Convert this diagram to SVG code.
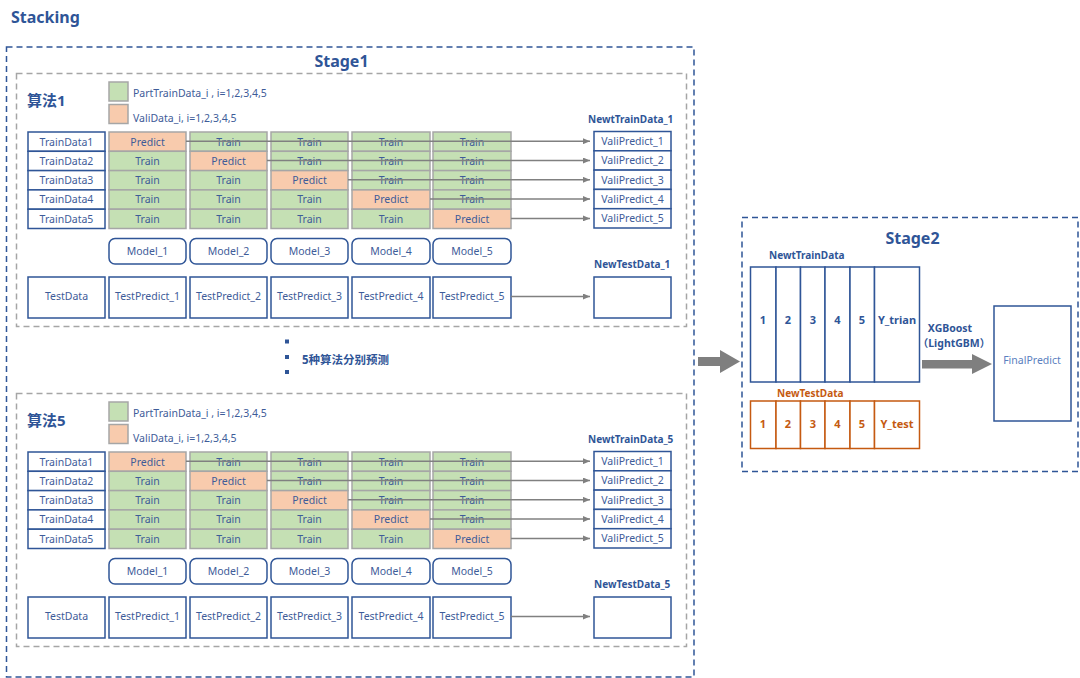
<svg xmlns="http://www.w3.org/2000/svg" width="1080" height="678" viewBox="0 0 1080 678">
<style>
text{font-family:"Noto Sans","Noto Sans CJK SC",sans-serif;fill:#3e5c99;font-size:10.5px}
.c{text-anchor:middle}
.b{font-weight:bold;fill:#2f5597}
.h1{font-size:16px;font-weight:bold;fill:#2f5597}
.algo{font-size:15px;font-weight:bold;fill:#2f5597}
.lb{font-size:10px;font-weight:bold;fill:#2f5597}
.ort{fill:#c55a11;font-weight:bold;font-size:10px}
.stage{fill:none;stroke:#2f5597;stroke-width:1.5;stroke-dasharray:6 4}
.inner{fill:none;stroke:#a6a6a6;stroke-width:1.5;stroke-dasharray:6 4}
.g{fill:#c5e0b4;stroke:#a6a6a6;stroke-width:1.5}
.o{fill:#f8cbad;stroke:#a6a6a6;stroke-width:1.5}
.bx{fill:#fff;stroke:#2f5597;stroke-width:1.5}
.obx{fill:#fff;stroke:#c55a11;stroke-width:1.5}
.con{fill:none;stroke:#808080;stroke-width:1.5}
.big{fill:#7f7f7f}
.num{font-size:11px;font-weight:bold;fill:#2f5597}
.onum{font-size:11px;font-weight:bold;fill:#c55a11}
</style>
<defs>
<marker id="ah" markerUnits="userSpaceOnUse" markerWidth="7" markerHeight="6" refX="7" refY="3" orient="auto"><path d="M0,0 L7,3 L0,6 z" fill="#808080"/></marker>
</defs>
<rect width="1080" height="678" fill="#fff"/>
<g id="title"><text class="h1" x="11" y="23">Stacking</text></g>

<g id="stage1">
<rect class="stage" x="6.5" y="47" width="687.5" height="630"/>
<text class="h1 c" x="341.5" y="67">Stage1</text>
</g>

<!-- Algorithm 1 block -->
<g id="algo1">
<rect class="inner" x="16.5" y="73.5" width="670" height="253"/>
<g id="a1-label"><text class="algo" x="27" y="106">算法1</text></g>
<g id="a1-legend-train"><rect class="g" x="109" y="82" width="19" height="19"/><text x="133" y="97">PartTrainData_i , i=1,2,3,4,5</text></g>
<g id="a1-legend-vali"><rect class="o" x="109" y="104.5" width="19" height="19"/><text x="133" y="121.5">ValiData_i, i=1,2,3,4,5</text></g>
<g id="a1-traindata">
<rect class="bx" x="28" y="132" width="77" height="19.3"/><text class="c" x="66.5" y="145.5">TrainData1</text>
<rect class="bx" x="28" y="151.3" width="77" height="19.3"/><text class="c" x="66.5" y="164.8">TrainData2</text>
<rect class="bx" x="28" y="170.6" width="77" height="19.3"/><text class="c" x="66.5" y="184.1">TrainData3</text>
<rect class="bx" x="28" y="189.9" width="77" height="19.3"/><text class="c" x="66.5" y="203.4">TrainData4</text>
<rect class="bx" x="28" y="209.2" width="77" height="19.3"/><text class="c" x="66.5" y="222.7">TrainData5</text>
</g>
<g id="a1-fold1">
<rect class="o" x="109" y="132" width="77" height="19.3"/><text class="c" x="147.5" y="145.5">Predict</text>
<rect class="g" x="109" y="151.3" width="77" height="19.3"/><text class="c" x="147.5" y="164.8">Train</text>
<rect class="g" x="109" y="170.6" width="77" height="19.3"/><text class="c" x="147.5" y="184.1">Train</text>
<rect class="g" x="109" y="189.9" width="77" height="19.3"/><text class="c" x="147.5" y="203.4">Train</text>
<rect class="g" x="109" y="209.2" width="77" height="19.3"/><text class="c" x="147.5" y="222.7">Train</text>
</g>
<g id="a1-fold2">
<rect class="g" x="190" y="132" width="77" height="19.3"/><text class="c" x="228.5" y="145.5">Train</text>
<rect class="o" x="190" y="151.3" width="77" height="19.3"/><text class="c" x="228.5" y="164.8">Predict</text>
<rect class="g" x="190" y="170.6" width="77" height="19.3"/><text class="c" x="228.5" y="184.1">Train</text>
<rect class="g" x="190" y="189.9" width="77" height="19.3"/><text class="c" x="228.5" y="203.4">Train</text>
<rect class="g" x="190" y="209.2" width="77" height="19.3"/><text class="c" x="228.5" y="222.7">Train</text>
</g>
<g id="a1-fold3">
<rect class="g" x="271" y="132" width="77" height="19.3"/><text class="c" x="309.5" y="145.5">Train</text>
<rect class="g" x="271" y="151.3" width="77" height="19.3"/><text class="c" x="309.5" y="164.8">Train</text>
<rect class="o" x="271" y="170.6" width="77" height="19.3"/><text class="c" x="309.5" y="184.1">Predict</text>
<rect class="g" x="271" y="189.9" width="77" height="19.3"/><text class="c" x="309.5" y="203.4">Train</text>
<rect class="g" x="271" y="209.2" width="77" height="19.3"/><text class="c" x="309.5" y="222.7">Train</text>
</g>
<g id="a1-fold4">
<rect class="g" x="352" y="132" width="78" height="19.3"/><text class="c" x="391" y="145.5">Train</text>
<rect class="g" x="352" y="151.3" width="78" height="19.3"/><text class="c" x="391" y="164.8">Train</text>
<rect class="g" x="352" y="170.6" width="78" height="19.3"/><text class="c" x="391" y="184.1">Train</text>
<rect class="o" x="352" y="189.9" width="78" height="19.3"/><text class="c" x="391" y="203.4">Predict</text>
<rect class="g" x="352" y="209.2" width="78" height="19.3"/><text class="c" x="391" y="222.7">Train</text>
</g>
<g id="a1-fold5">
<rect class="g" x="433" y="132" width="78" height="19.3"/><text class="c" x="472" y="145.5">Train</text>
<rect class="g" x="433" y="151.3" width="78" height="19.3"/><text class="c" x="472" y="164.8">Train</text>
<rect class="g" x="433" y="170.6" width="78" height="19.3"/><text class="c" x="472" y="184.1">Train</text>
<rect class="g" x="433" y="189.9" width="78" height="19.3"/><text class="c" x="472" y="203.4">Train</text>
<rect class="o" x="433" y="209.2" width="78" height="19.3"/><text class="c" x="472" y="222.7">Predict</text>
</g>
<g id="a1-newtrain">
<text class="lb" x="588" y="123">NewtTrainData_1</text>
<rect class="bx" x="594" y="131.5" width="77" height="19.3"/><text class="c" x="632.5" y="145">ValiPredict_1</text>
<rect class="bx" x="594" y="150.8" width="77" height="19.3"/><text class="c" x="632.5" y="164.3">ValiPredict_2</text>
<rect class="bx" x="594" y="170.1" width="77" height="19.3"/><text class="c" x="632.5" y="183.6">ValiPredict_3</text>
<rect class="bx" x="594" y="189.4" width="77" height="19.3"/><text class="c" x="632.5" y="202.9">ValiPredict_4</text>
<rect class="bx" x="594" y="208.7" width="77" height="19.3"/><text class="c" x="632.5" y="222.2">ValiPredict_5</text>
</g>
<g id="a1-models">
<rect class="bx" x="109" y="238.5" width="77" height="25.5" rx="6"/><text class="c" x="147.5" y="255">Model_1</text>
<rect class="bx" x="190" y="238.5" width="77" height="25.5" rx="6"/><text class="c" x="228.5" y="255">Model_2</text>
<rect class="bx" x="271" y="238.5" width="77" height="25.5" rx="6"/><text class="c" x="309.5" y="255">Model_3</text>
<rect class="bx" x="352" y="238.5" width="78" height="25.5" rx="6"/><text class="c" x="391" y="255">Model_4</text>
<rect class="bx" x="433" y="238.5" width="78" height="25.5" rx="6"/><text class="c" x="472" y="255">Model_5</text>
</g>
<g id="a1-test">
<rect class="bx" x="28" y="277" width="77" height="41"/><text class="c" x="66.5" y="300">TestData</text>
<rect class="bx" x="109" y="277" width="77" height="41"/><text class="c" x="147.5" y="300">TestPredict_1</text>
<rect class="bx" x="190" y="277" width="77" height="41"/><text class="c" x="228.5" y="300">TestPredict_2</text>
<rect class="bx" x="271" y="277" width="77" height="41"/><text class="c" x="309.5" y="300">TestPredict_3</text>
<rect class="bx" x="352" y="277" width="78" height="41"/><text class="c" x="391" y="300">TestPredict_4</text>
<rect class="bx" x="433" y="277" width="78" height="41"/><text class="c" x="472" y="300">TestPredict_5</text>
</g>
<g id="a1-newtest">
<text class="lb" x="594" y="268">NewTestData_1</text>
<rect class="bx" x="594" y="277" width="77" height="41"/>
</g>
</g>

<g id="ellipsis">
<rect x="285" y="339.5" width="4" height="4" fill="#2f5597"/>
<rect x="285" y="355" width="4" height="4" fill="#2f5597"/>
<rect x="285" y="370" width="4" height="4" fill="#2f5597"/>
<text class="b" x="302" y="364" style="font-size:11.5px">5种算法分别预测</text>
</g>

<!-- Algorithm 5 block -->
<g id="algo5">
<rect class="inner" x="16.5" y="393.5" width="670" height="253"/>
<g id="a5-label"><text class="algo" x="27" y="426">算法5</text></g>
<g id="a5-legend-train"><rect class="g" x="109" y="402" width="19" height="19"/><text x="133" y="417">PartTrainData_i , i=1,2,3,4,5</text></g>
<g id="a5-legend-vali"><rect class="o" x="109" y="424.5" width="19" height="19"/><text x="133" y="441.5">ValiData_i, i=1,2,3,4,5</text></g>
<g id="a5-traindata">
<rect class="bx" x="28" y="452" width="77" height="19.3"/><text class="c" x="66.5" y="465.5">TrainData1</text>
<rect class="bx" x="28" y="471.3" width="77" height="19.3"/><text class="c" x="66.5" y="484.8">TrainData2</text>
<rect class="bx" x="28" y="490.6" width="77" height="19.3"/><text class="c" x="66.5" y="504.1">TrainData3</text>
<rect class="bx" x="28" y="509.9" width="77" height="19.3"/><text class="c" x="66.5" y="523.4">TrainData4</text>
<rect class="bx" x="28" y="529.2" width="77" height="19.3"/><text class="c" x="66.5" y="542.7">TrainData5</text>
</g>
<g id="a5-fold1">
<rect class="o" x="109" y="452" width="77" height="19.3"/><text class="c" x="147.5" y="465.5">Predict</text>
<rect class="g" x="109" y="471.3" width="77" height="19.3"/><text class="c" x="147.5" y="484.8">Train</text>
<rect class="g" x="109" y="490.6" width="77" height="19.3"/><text class="c" x="147.5" y="504.1">Train</text>
<rect class="g" x="109" y="509.9" width="77" height="19.3"/><text class="c" x="147.5" y="523.4">Train</text>
<rect class="g" x="109" y="529.2" width="77" height="19.3"/><text class="c" x="147.5" y="542.7">Train</text>
</g>
<g id="a5-fold2">
<rect class="g" x="190" y="452" width="77" height="19.3"/><text class="c" x="228.5" y="465.5">Train</text>
<rect class="o" x="190" y="471.3" width="77" height="19.3"/><text class="c" x="228.5" y="484.8">Predict</text>
<rect class="g" x="190" y="490.6" width="77" height="19.3"/><text class="c" x="228.5" y="504.1">Train</text>
<rect class="g" x="190" y="509.9" width="77" height="19.3"/><text class="c" x="228.5" y="523.4">Train</text>
<rect class="g" x="190" y="529.2" width="77" height="19.3"/><text class="c" x="228.5" y="542.7">Train</text>
</g>
<g id="a5-fold3">
<rect class="g" x="271" y="452" width="77" height="19.3"/><text class="c" x="309.5" y="465.5">Train</text>
<rect class="g" x="271" y="471.3" width="77" height="19.3"/><text class="c" x="309.5" y="484.8">Train</text>
<rect class="o" x="271" y="490.6" width="77" height="19.3"/><text class="c" x="309.5" y="504.1">Predict</text>
<rect class="g" x="271" y="509.9" width="77" height="19.3"/><text class="c" x="309.5" y="523.4">Train</text>
<rect class="g" x="271" y="529.2" width="77" height="19.3"/><text class="c" x="309.5" y="542.7">Train</text>
</g>
<g id="a5-fold4">
<rect class="g" x="352" y="452" width="78" height="19.3"/><text class="c" x="391" y="465.5">Train</text>
<rect class="g" x="352" y="471.3" width="78" height="19.3"/><text class="c" x="391" y="484.8">Train</text>
<rect class="g" x="352" y="490.6" width="78" height="19.3"/><text class="c" x="391" y="504.1">Train</text>
<rect class="o" x="352" y="509.9" width="78" height="19.3"/><text class="c" x="391" y="523.4">Predict</text>
<rect class="g" x="352" y="529.2" width="78" height="19.3"/><text class="c" x="391" y="542.7">Train</text>
</g>
<g id="a5-fold5">
<rect class="g" x="433" y="452" width="78" height="19.3"/><text class="c" x="472" y="465.5">Train</text>
<rect class="g" x="433" y="471.3" width="78" height="19.3"/><text class="c" x="472" y="484.8">Train</text>
<rect class="g" x="433" y="490.6" width="78" height="19.3"/><text class="c" x="472" y="504.1">Train</text>
<rect class="g" x="433" y="509.9" width="78" height="19.3"/><text class="c" x="472" y="523.4">Train</text>
<rect class="o" x="433" y="529.2" width="78" height="19.3"/><text class="c" x="472" y="542.7">Predict</text>
</g>
<g id="a5-newtrain">
<text class="lb" x="588" y="443">NewtTrainData_5</text>
<rect class="bx" x="594" y="451.5" width="77" height="19.3"/><text class="c" x="632.5" y="465">ValiPredict_1</text>
<rect class="bx" x="594" y="470.8" width="77" height="19.3"/><text class="c" x="632.5" y="484.3">ValiPredict_2</text>
<rect class="bx" x="594" y="490.1" width="77" height="19.3"/><text class="c" x="632.5" y="503.6">ValiPredict_3</text>
<rect class="bx" x="594" y="509.4" width="77" height="19.3"/><text class="c" x="632.5" y="522.9">ValiPredict_4</text>
<rect class="bx" x="594" y="528.7" width="77" height="19.3"/><text class="c" x="632.5" y="542.2">ValiPredict_5</text>
</g>
<g id="a5-models">
<rect class="bx" x="109" y="558.5" width="77" height="25.5" rx="6"/><text class="c" x="147.5" y="575">Model_1</text>
<rect class="bx" x="190" y="558.5" width="77" height="25.5" rx="6"/><text class="c" x="228.5" y="575">Model_2</text>
<rect class="bx" x="271" y="558.5" width="77" height="25.5" rx="6"/><text class="c" x="309.5" y="575">Model_3</text>
<rect class="bx" x="352" y="558.5" width="78" height="25.5" rx="6"/><text class="c" x="391" y="575">Model_4</text>
<rect class="bx" x="433" y="558.5" width="78" height="25.5" rx="6"/><text class="c" x="472" y="575">Model_5</text>
</g>
<g id="a5-test">
<rect class="bx" x="28" y="597" width="77" height="41"/><text class="c" x="66.5" y="620">TestData</text>
<rect class="bx" x="109" y="597" width="77" height="41"/><text class="c" x="147.5" y="620">TestPredict_1</text>
<rect class="bx" x="190" y="597" width="77" height="41"/><text class="c" x="228.5" y="620">TestPredict_2</text>
<rect class="bx" x="271" y="597" width="77" height="41"/><text class="c" x="309.5" y="620">TestPredict_3</text>
<rect class="bx" x="352" y="597" width="78" height="41"/><text class="c" x="391" y="620">TestPredict_4</text>
<rect class="bx" x="433" y="597" width="78" height="41"/><text class="c" x="472" y="620">TestPredict_5</text>
</g>
<g id="a5-newtest">
<text class="lb" x="594" y="588">NewTestData_5</text>
<rect class="bx" x="594" y="597" width="77" height="41"/>
</g>
</g>

<!-- Stage 2 -->
<g id="stage2">
<rect class="stage" x="742" y="217.5" width="336" height="254"/>
<text class="h1 c" x="912.5" y="244">Stage2</text>
</g>
<g id="s2-newtrain">
<text class="lb" x="769" y="259">NewtTrainData</text>
<rect class="bx" x="750.5" y="267" width="25.5" height="115"/><text class="num c" x="763" y="324">1</text>
<rect class="bx" x="776" y="267" width="24.5" height="115"/><text class="num c" x="788" y="324">2</text>
<rect class="bx" x="800.5" y="267" width="24.5" height="115"/><text class="num c" x="813" y="324">3</text>
<rect class="bx" x="825" y="267" width="25" height="115"/><text class="num c" x="837.5" y="324">4</text>
<rect class="bx" x="850" y="267" width="24.5" height="115"/><text class="num c" x="862" y="324">5</text>
<rect class="bx" x="874.5" y="267" width="45" height="115"/><text class="num c" x="897" y="324">Y_trian</text>
</g>
<g id="s2-newtest">
<text class="ort" x="777" y="397">NewTestData</text>
<rect class="obx" x="750.5" y="401" width="25.5" height="47.5"/><text class="onum c" x="763" y="428">1</text>
<rect class="obx" x="776" y="401" width="24.5" height="47.5"/><text class="onum c" x="788" y="428">2</text>
<rect class="obx" x="800.5" y="401" width="24.5" height="47.5"/><text class="onum c" x="813" y="428">3</text>
<rect class="obx" x="825" y="401" width="25" height="47.5"/><text class="onum c" x="837.5" y="428">4</text>
<rect class="obx" x="850" y="401" width="24.5" height="47.5"/><text class="onum c" x="862" y="428">5</text>
<rect class="obx" x="874.5" y="401" width="45" height="47.5"/><text class="onum c" x="897" y="428">Y_test</text>
</g>
<g id="s2-final">
<rect class="bx" x="994" y="306" width="77" height="115"/>
<text class="c" x="1032" y="364" style="fill:#5b7fc0">FinalPredict</text>
</g>

<g id="connectors">
<line class="con" x1="186" y1="141.2" x2="590" y2="141.2" marker-end="url(#ah)"/>
<line class="con" x1="267" y1="160.5" x2="590" y2="160.5" marker-end="url(#ah)"/>
<line class="con" x1="348" y1="179.8" x2="590" y2="179.8" marker-end="url(#ah)"/>
<line class="con" x1="430" y1="199.1" x2="590" y2="199.1" marker-end="url(#ah)"/>
<line class="con" x1="511" y1="218.4" x2="590" y2="218.4" marker-end="url(#ah)"/>
<line class="con" x1="511" y1="296.5" x2="590" y2="296.5" marker-end="url(#ah)"/>
<line class="con" x1="186" y1="461.2" x2="590" y2="461.2" marker-end="url(#ah)"/>
<line class="con" x1="267" y1="480.5" x2="590" y2="480.5" marker-end="url(#ah)"/>
<line class="con" x1="348" y1="499.8" x2="590" y2="499.8" marker-end="url(#ah)"/>
<line class="con" x1="430" y1="519.1" x2="590" y2="519.1" marker-end="url(#ah)"/>
<line class="con" x1="511" y1="538.4" x2="590" y2="538.4" marker-end="url(#ah)"/>
<line class="con" x1="511" y1="616.5" x2="590" y2="616.5" marker-end="url(#ah)"/>
<polygon class="big" points="698,357 720,357 720,350 740,361.5 720,373 720,366 698,366"/>
<polygon class="big" points="922,360 972,360 972,354 992,364 972,374 972,368.5 922,368.5"/>
<text class="b c" x="950" y="332">XGBoost</text>
<text class="b c" x="954" y="347">（LightGBM）</text>
</g>
</svg>
